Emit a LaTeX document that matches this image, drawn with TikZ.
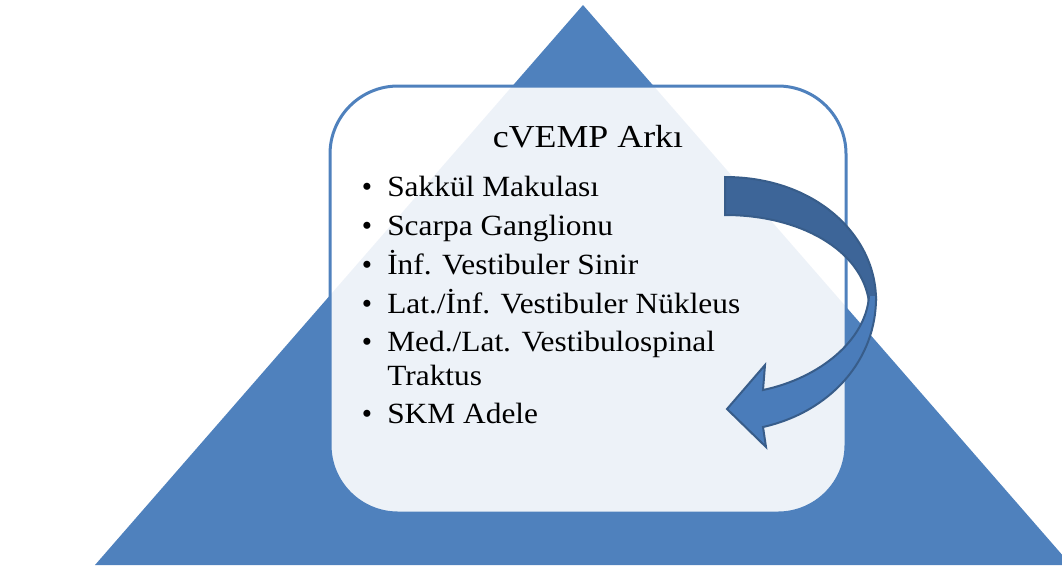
\documentclass[tikz,border=0pt]{standalone}
\usepackage{fontspec}
\setmainfont{Liberation Serif}
\definecolor{pyramid}{HTML}{4F81BD}
\definecolor{arrowdark}{HTML}{3D6598}
\definecolor{arrowlight}{HTML}{4A7CBA}
\definecolor{arrowline}{HTML}{385D8A}
\begin{document}
\begin{tikzpicture}[x=0.75pt,y=-0.75pt,
  item/.style={anchor=base west,inner sep=0pt,xscale=1.07},
  dot/.style={anchor=base,inner sep=0pt}]
\fontsize{22}{26}\selectfont
\useasboundingbox (0,0) rectangle (1062,572);
\clip (0,0) rectangle (1062,572);
% pyramid and box
\fill[pyramid] (583,5) -- (1071,565) -- (95,565) -- cycle;
\draw[pyramid,line width=2.25pt,fill=white,fill opacity=0.9,rounded corners=51pt] (330,86) rectangle (846,513);
% curved arrow
\draw[arrowline,line width=1.5pt,fill=arrowdark] (725,177) .. controls (815,177) and (876,235) .. (876,300) -- (869,302) .. controls (862,250) and (800,215) .. (725,215) -- cycle;
\draw[arrowline,line width=1.5pt,fill=arrowlight,line join=miter] (876,296) .. controls (877,360) and (830,412) .. (763,427) -- (766,447) -- (727,409) -- (765,365) -- (763,390) .. controls (820,378) and (866,340) .. (869,296);
% text
\draw (588,147) node[dot,xscale=1.12,font=\fontsize{24}{28}\selectfont] (title) {cVEMP Arkı};
\draw (367,196) node[dot] (b1) {\textbullet};
\draw (387,196) node[item] (i1) {Sakkül Makulası};
\draw (367,235) node[dot] (b2) {\textbullet};
\draw (387,235) node[item] (i2) {Scarpa Ganglionu};
\draw (367,274) node[dot] (b3) {\textbullet};
\draw (387,274) node[item] (i3) {İnf. Vestibuler Sinir};
\draw (367,313) node[dot] (b4) {\textbullet};
\draw (387,313) node[item] (i4) {Lat./İnf. Vestibuler Nükleus};
\draw (367,351) node[dot] (b5) {\textbullet};
\draw (387,351) node[item] (i5) {Med./Lat. Vestibulospinal};
\draw (387,385) node[item] (i5b) {Traktus};
\draw (367,423) node[dot] (b6) {\textbullet};
\draw (387,423) node[item] (i6) {SKM Adele};
\end{tikzpicture}
\end{document}
